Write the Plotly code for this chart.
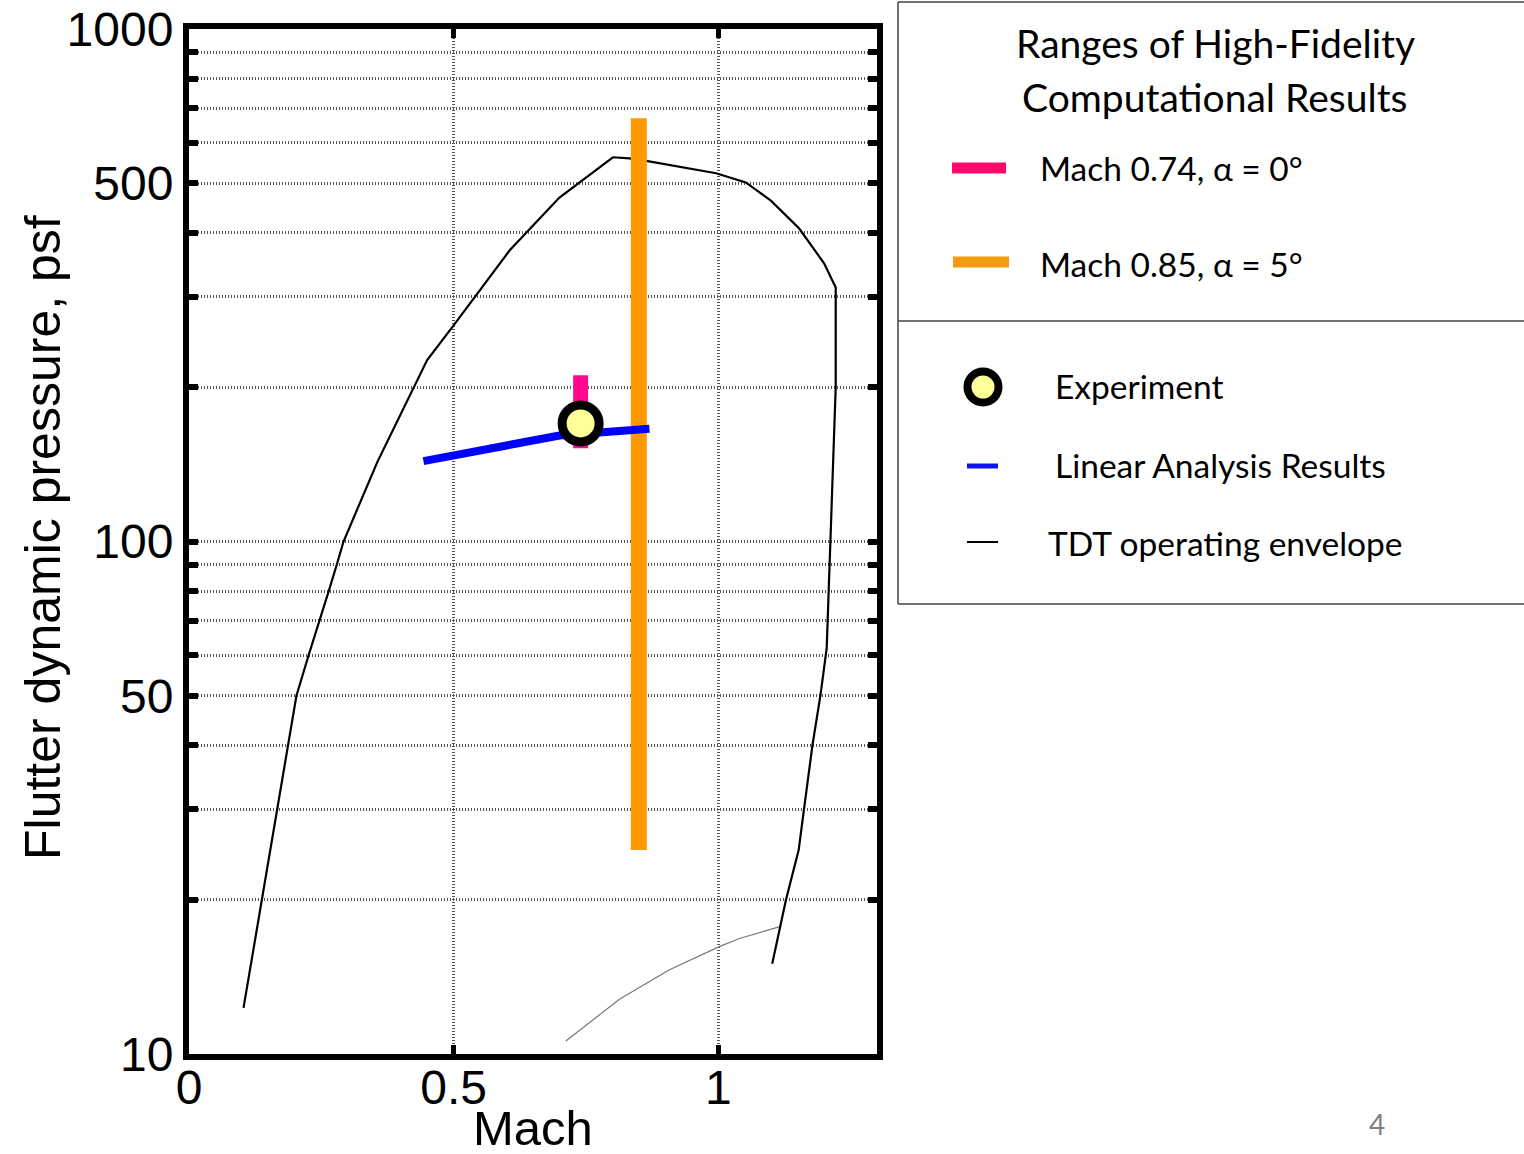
import plotly.graph_objects as go

# ---------------- data ----------------
env_mach = [0.103, 0.154, 0.183, 0.203, 0.226, 0.247, 0.264, 0.279, 0.292, 0.356, 0.405,
            0.45, 0.50, 0.55, 0.606, 0.70, 0.801, 0.832, 0.864, 0.996, 1.052, 1.10, 1.153, 1.20,
            1.222, 1.222, 1.212, 1.209, 1.205, 1.193, 1.178, 1.162, 1.152, 1.128, 1.102]
env_q = [12.3, 25, 37.9, 50, 60, 70, 80, 90, 100, 143, 182,
         226, 264, 309, 370, 469, 562, 559, 553, 523, 502, 462, 408, 349,
         313, 200, 100, 80, 62, 50, 40, 30, 25, 20, 15]

lower_mach = [0.712, 0.814, 0.908, 1.002, 1.04, 1.115]
lower_q = [10.6, 12.8, 14.6, 16.2, 16.8, 17.7]

linear_mach = [0.443, 0.60, 0.70, 0.87]
linear_q = [143.5, 153.5, 161, 166]

exp_mach = [0.74]
exp_q = [170]

hf074_mach = [0.74, 0.74]
hf074_q = [152, 211]

hf085_mach = [0.85, 0.85]
hf085_q = [25, 670]

y_tickvals = [10, 20, 30, 40, 50, 60, 70, 80, 90, 100, 200, 300, 400, 500, 600, 700, 800, 900, 1000]
y_ticktext = ["10", "", "", "", "50", "", "", "", "", "100", "", "", "", "500", "", "", "", "", "1000"]
x_tickvals = [0, 0.5, 1]
x_ticktext = ["0", "0.5", "1"]

legend_title_lines = ["Ranges of High-Fidelity", "Computational Results"]
legend_labels = ["Mach 0.74, \u03b1 = 0\u00b0", "Mach 0.85, \u03b1 = 5\u00b0",
                 "Experiment", "Linear Analysis Results", "TDT operating envelope"]

# ---------------- layout helpers ----------------
W, H = 1524, 1154
def px(x):
    return x / W
def py(y):
    return 1 - y / H

AX_FONT = "Liberation Sans, Arial, sans-serif"
LG_FONT = "Lato, Carlito, Calibri, sans-serif"

fig = go.Figure()

fig.add_trace(go.Scatter(x=env_mach, y=env_q, mode="lines",
                         line=dict(color="black", width=2.2), showlegend=False))
fig.add_trace(go.Scatter(x=lower_mach, y=lower_q, mode="lines",
                         line=dict(color="#777777", width=1.2), showlegend=False))
fig.add_trace(go.Scatter(x=hf074_mach, y=hf074_q, mode="lines",
                         line=dict(color="#FF0A8C", width=15), showlegend=False))
fig.add_trace(go.Scatter(x=hf085_mach, y=hf085_q, mode="lines",
                         line=dict(color="#FF9900", width=16), showlegend=False))
fig.add_trace(go.Scatter(x=linear_mach, y=linear_q, mode="lines",
                         line=dict(color="#0000FF", width=8), showlegend=False))
fig.add_trace(go.Scatter(x=exp_mach, y=exp_q, mode="markers",
                         marker=dict(size=37, color="#FFFF99", line=dict(color="black", width=9)),
                         showlegend=False))

grid_common = dict(showgrid=True, gridcolor="#555555", gridwidth=3, griddash="1px,2px",
                   showline=True, linecolor="black", linewidth=6, mirror="ticks",
                   ticks="inside", tickcolor="black", zeroline=False,
                   tickfont=dict(family=AX_FONT, size=48, color="black"))

fig.update_xaxes(domain=[189 / W, 877 / W], range=[0, 1.3],
                 tickvals=x_tickvals, ticktext=x_ticktext, ticklabelstandoff=-14,
                 ticklen=9, tickwidth=5, automargin=False, **grid_common)
fig.update_yaxes(domain=[1 - 1054 / H, 1 - 29 / H], type="log", range=[1, 3],
                 tickvals=y_tickvals, ticktext=y_ticktext,
                 ticklen=9, tickwidth=6, automargin=False, **grid_common)

annotations = [
    dict(text="Mach", x=px(533), y=py(1128), xref="paper", yref="paper", showarrow=False,
         xanchor="center", yanchor="middle", font=dict(family=AX_FONT, size=49, color="black")),
    dict(text="Flutter dynamic pressure, psf", x=px(43), y=py(538), xref="paper", yref="paper",
         showarrow=False, textangle=-90, xanchor="center", yanchor="middle",
         font=dict(family=AX_FONT, size=50, color="black")),
    dict(text="4", x=px(1377), y=py(1124), xref="paper", yref="paper", showarrow=False,
         xanchor="center", yanchor="middle", font=dict(family=LG_FONT, size=28, color="#808080")),
]
for line_txt, ly in zip(legend_title_lines, [43, 97]):
    annotations.append(dict(text=line_txt, x=px(1215), y=py(ly), xref="paper", yref="paper",
                            showarrow=False, xanchor="center", yanchor="middle",
                            font=dict(family=LG_FONT, size=39, color="black")))
label_pos = [(1038, 168), (1038, 264), (1053, 386), (1053, 465), (1046, 543)]
for lab, (lx, ly) in zip(legend_labels, label_pos):
    annotations.append(dict(text=lab, x=px(lx), y=py(ly), xref="paper", yref="paper",
                            showarrow=False, xanchor="left", yanchor="middle",
                            font=dict(family=LG_FONT, size=33.5, color="black")))

shapes = [
    # legend frames
    dict(type="line", xref="paper", yref="paper", x0=px(898), x1=1, y0=py(2), y1=py(2),
         line=dict(color="#444444", width=1.5)),
    dict(type="line", xref="paper", yref="paper", x0=px(898), x1=px(898), y0=py(2), y1=py(604),
         line=dict(color="#444444", width=1.5)),
    dict(type="line", xref="paper", yref="paper", x0=px(898), x1=1, y0=py(321), y1=py(321),
         line=dict(color="#444444", width=1.5)),
    dict(type="line", xref="paper", yref="paper", x0=px(898), x1=1, y0=py(604), y1=py(604),
         line=dict(color="#444444", width=1.5)),
    # legend keys
    dict(type="line", xref="paper", yref="paper", x0=px(952), x1=px(1006), y0=py(168), y1=py(168),
         line=dict(color="#FF0A6C", width=11)),
    dict(type="line", xref="paper", yref="paper", x0=px(953), x1=px(1009), y0=py(262), y1=py(262),
         line=dict(color="#F39C12", width=11)),
    dict(type="circle", xref="paper", yref="paper", xsizemode="pixel", ysizemode="pixel",
         xanchor=px(983), yanchor=py(387), x0=-15.5, x1=15.5, y0=-15.5, y1=15.5,
         fillcolor="#FFFF99", line=dict(color="black", width=8)),
    dict(type="line", xref="paper", yref="paper", x0=px(967), x1=px(998), y0=py(466), y1=py(466),
         line=dict(color="#1010F0", width=5)),
    dict(type="line", xref="paper", yref="paper", x0=px(967), x1=px(998), y0=py(542), y1=py(542),
         line=dict(color="black", width=2)),
]

fig.update_layout(width=W, height=H, margin=dict(l=0, r=0, t=0, b=0),
                  paper_bgcolor="white", plot_bgcolor="white",
                  annotations=annotations, shapes=shapes, showlegend=False)

fig.write_html("out.html")
